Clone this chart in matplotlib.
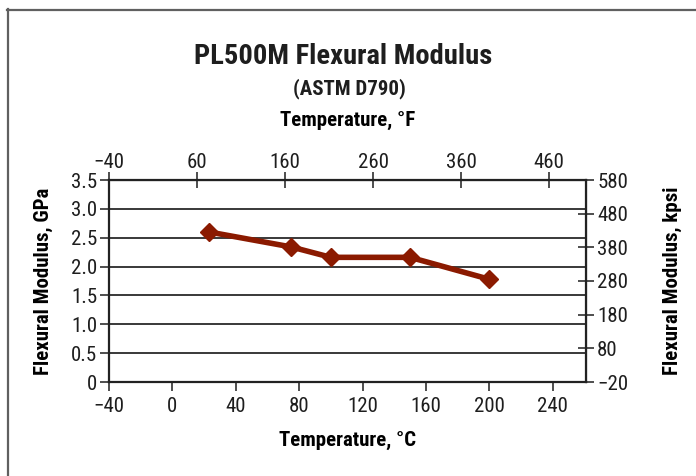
import matplotlib
matplotlib.use('Agg')
import matplotlib.pyplot as plt
from matplotlib.lines import Line2D

plt.rcParams['font.family'] = ['Roboto Condensed', 'DejaVu Sans']
plt.rcParams['axes.unicode_minus'] = True

# data
temp_c = [23, 75, 100, 150, 200]
modulus_gpa = [2.60, 2.34, 2.16, 2.16, 1.78]

x_ticks_c = [-40, 0, 40, 80, 120, 160, 200, 240]
x_ticks_f = [-40, 60, 160, 260, 360, 460]
y_ticks_gpa = [0, 0.5, 1.0, 1.5, 2.0, 2.5, 3.0, 3.5]
y_labels_gpa = ['0', '0.5', '1.0', '1.5', '2.0', '2.5', '3.0', '3.5']
y_ticks_kpsi = [-20, 80, 180, 280, 380, 480, 580]

line_color = '#8b1a00'
grid_color = '#2a2a2a'
text_color = '#1e1e1e'


def c2f(c):
    return c * 9 / 5 + 32


def f2c(f):
    return (f - 32) * 5 / 9


def gpa2k(g):
    return -20 + g / 3.5 * 600


def k2gpa(k):
    return (k + 20) / 600 * 3.5


def minus(vals):
    return [str(v).replace('-', '\u2212') for v in vals]


fig = plt.figure(figsize=(6.96, 4.76), dpi=100)
ax = fig.add_axes([109 / 696, 1 - 382 / 476, 477 / 696, 202 / 476])

ax.set_xlim(-40, 261)
ax.set_ylim(0, 3.5)
for y in y_ticks_gpa[1:-1]:
    ax.axhline(y, color=grid_color, lw=1.3, zorder=1)

ax.plot(temp_c, modulus_gpa, color=line_color, lw=4, marker='D',
        markersize=9, zorder=3)

for s in ax.spines.values():
    s.set_linewidth(1.6)
    s.set_color('#222222')

ax.set_xticks(x_ticks_c)
ax.set_xticklabels(minus(x_ticks_c), fontsize=15)
ax.set_yticks(y_ticks_gpa)
ax.set_yticklabels(y_labels_gpa, fontsize=15)
ax.tick_params(axis='both', direction='out', length=6.5, width=1.1,
               colors=text_color, pad=2)
ax.tick_params(axis='x', pad=4)
ax.set_xlabel('Temperature, °C', fontsize=15, fontweight='bold', labelpad=11)
ax.set_ylabel('Flexural Modulus, GPa', fontsize=15, fontweight='bold',
              labelpad=13)

top = ax.secondary_xaxis('top', functions=(c2f, f2c))
top.set_xticks(x_ticks_f)
top.set_xticklabels(minus(x_ticks_f), fontsize=15)
top.tick_params(direction='inout', length=11, width=1.1,
                colors=text_color, pad=0)
top.set_xlabel('Temperature, °F', fontsize=15, fontweight='bold',
               labelpad=20)

right = ax.secondary_yaxis('right', functions=(gpa2k, k2gpa))
right.set_yticks(y_ticks_kpsi)
right.set_yticklabels(minus(y_ticks_kpsi), fontsize=15)
right.tick_params(direction='inout', length=12, width=1.1,
                  colors=text_color, pad=2)
right.set_ylabel('Flexural Modulus, kpsi', fontsize=15, fontweight='bold',
                 labelpad=25)

fig.text(343 / 696, 1 - 56 / 476, 'PL500M Flexural Modulus', ha='center',
         va='center', fontsize=20.5, fontweight='bold', color=text_color)
fig.text(349 / 696, 1 - 89 / 476, '(ASTM D790)', ha='center', va='center',
         fontsize=15, fontweight='bold', color=text_color)

# frame around the figure (top and left edges only are visible)
fig.add_artist(Line2D([7 / 696, 1], [1 - 9.5 / 476, 1 - 9.5 / 476],
                      color='#606060', lw=1.6, transform=fig.transFigure))
fig.add_artist(Line2D([7.5 / 696, 7.5 / 696], [0, 1 - 9 / 476],
                      color='#606060', lw=1.6, transform=fig.transFigure))

fig.savefig('out.png', dpi=100)
